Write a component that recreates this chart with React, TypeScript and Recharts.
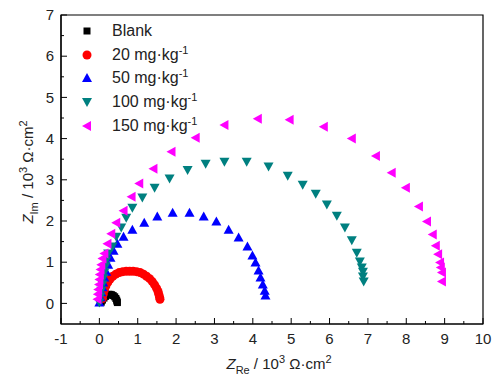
import { ScatterChart, Scatter, XAxis, YAxis, Legend, ReferenceArea } from "recharts";

// Nyquist data, Z' and Z'' in 10^3 ohm·cm2
const blankRe = [0.05, 0.08, 0.12, 0.16, 0.2, 0.24, 0.28, 0.32, 0.36, 0.4, 0.43, 0.45, 0.46, 0.47];
const blankIm = [0.03, 0.08, 0.13, 0.17, 0.2, 0.22, 0.22, 0.21, 0.19, 0.16, 0.12, 0.08, 0.05, 0.02];

const c20Re = [0.08, 0.1, 0.13, 0.17, 0.22, 0.28, 0.35, 0.43, 0.52, 0.61, 0.7, 0.79, 0.88, 0.97, 1.06, 1.15, 1.23, 1.31, 1.38, 1.44, 1.49, 1.53, 1.55, 1.57, 1.58];
const c20Im = [0.12, 0.22, 0.32, 0.42, 0.51, 0.59, 0.66, 0.71, 0.75, 0.77, 0.78, 0.78, 0.78, 0.77, 0.75, 0.71, 0.66, 0.6, 0.53, 0.45, 0.37, 0.29, 0.22, 0.15, 0.1];

const c50Re = [0, 0.03, 0.05, 0.08, 0.1, 0.13, 0.18, 0.23, 0.29, 0.37, 0.47, 0.63, 0.86, 1.17, 1.51, 1.91, 2.35, 2.72, 3.05, 3.37, 3.63, 3.86, 3.99, 4.07, 4.15, 4.2, 4.26, 4.31, 4.33];
const c50Im = [0.02, 0.15, 0.27, 0.39, 0.51, 0.63, 0.77, 0.94, 1.11, 1.28, 1.45, 1.62, 1.79, 1.96, 2.11, 2.2, 2.2, 2.11, 1.99, 1.79, 1.6, 1.38, 1.16, 0.99, 0.8, 0.63, 0.46, 0.31, 0.19];

const c100Re = [0, 0.03, 0.05, 0.08, 0.1, 0.13, 0.16, 0.18, 0.23, 0.34, 0.44, 0.57, 0.7, 0.86, 1.12, 1.44, 1.83, 2.3, 2.77, 3.26, 3.84, 4.41, 4.91, 5.3, 5.64, 5.93, 6.19, 6.4, 6.58, 6.71, 6.79, 6.84, 6.87, 6.87, 6.89];
const c100Im = [0.02, 0.17, 0.31, 0.46, 0.61, 0.75, 0.9, 1.04, 1.21, 1.38, 1.62, 1.84, 2.08, 2.32, 2.57, 2.81, 3.03, 3.24, 3.39, 3.44, 3.44, 3.32, 3.1, 2.88, 2.66, 2.4, 2.13, 1.84, 1.53, 1.23, 1.02, 0.87, 0.77, 0.65, 0.53];

const c150Re = [-0.05, -0.04, -0.03, -0.01, 0, 0.01, 0.03, 0.05, 0.08, 0.13, 0.21, 0.31, 0.44, 0.63, 0.84, 1.04, 1.41, 1.88, 2.51, 3.26, 4.13, 4.96, 5.85, 6.58, 7.21, 7.62, 7.99, 8.33, 8.54, 8.69, 8.77, 8.83, 8.88, 8.9, 8.93, 8.93];
const c150Im = [0.1, 0.22, 0.34, 0.46, 0.58, 0.7, 0.82, 0.94, 1.09, 1.21, 1.45, 1.69, 1.96, 2.25, 2.59, 2.91, 3.27, 3.68, 4.02, 4.33, 4.48, 4.46, 4.29, 4, 3.58, 3.17, 2.81, 2.35, 1.99, 1.67, 1.4, 1.19, 0.99, 0.87, 0.75, 0.53];

const xTicks = [-1, -0.5, 0, 0.5, 1, 1.5, 2, 2.5, 3, 3.5, 4, 4.5, 5, 5.5, 6, 6.5, 7, 7.5, 8, 8.5, 9, 9.5, 10];
const yTicks = [0, 0.5, 1, 1.5, 2, 2.5, 3, 3.5, 4, 4.5, 5, 5.5, 6, 6.5, 7];

const FONT = "'Liberation Sans', Arial, sans-serif";

const toPoints = (re: number[], im: number[]) => re.map((x, i) => ({ x, y: im[i] }));

type Kind = "square" | "circle" | "up" | "down" | "left";

function marker(kind: Kind, cx: number, cy: number, fill: string) {
  switch (kind) {
    case "square":
      return <rect x={cx - 3.5} y={cy - 3.5} width={7} height={7} fill={fill} />;
    case "circle":
      return <circle cx={cx} cy={cy} r={4.5} fill={fill} />;
    case "up":
      return <polygon points={`${cx},${cy - 5} ${cx + 5},${cy + 4} ${cx - 5},${cy + 4}`} fill={fill} />;
    case "down":
      return <polygon points={`${cx},${cy + 5} ${cx + 5},${cy - 4} ${cx - 5},${cy - 4}`} fill={fill} />;
    default:
      return <polygon points={`${cx - 5},${cy} ${cx + 4},${cy - 5} ${cx + 4},${cy + 5}`} fill={fill} />;
  }
}

const series = [
  { name: "Blank", unit: false, color: "#000000", kind: "square" as Kind, data: toPoints(blankRe, blankIm) },
  { name: "20 mg·kg", unit: true, color: "#ff0000", kind: "circle" as Kind, data: toPoints(c20Re, c20Im) },
  { name: "50 mg·kg", unit: true, color: "#0000ff", kind: "up" as Kind, data: toPoints(c50Re, c50Im) },
  { name: "100 mg·kg", unit: true, color: "#008080", kind: "down" as Kind, data: toPoints(c100Re, c100Im) },
  { name: "150 mg·kg", unit: true, color: "#ff00ff", kind: "left" as Kind, data: toPoints(c150Re, c150Im) },
];

const XTick = (props: any) => {
  const { x, y, payload } = props;
  const v = payload.value;
  const major = Number.isInteger(v);
  const ay = y - 9;
  return (
    <g>
      <line x1={x} x2={x} y1={ay} y2={ay - (major ? 6 : 3)} stroke="#000" />
      {major && (
        <text x={x} y={y} dy="0.71em" textAnchor="middle" fontSize={15} fontFamily={FONT} fill="#222">
          {v}
        </text>
      )}
    </g>
  );
};

const YTick = (props: any) => {
  const { x, y, payload } = props;
  const v = payload.value;
  const major = Number.isInteger(v);
  const ax = x + 7;
  return (
    <g>
      <line x1={ax} x2={ax + (major ? 6 : 3)} y1={y} y2={y} stroke="#000" />
      {major && (
        <text x={x} y={y} dy="0.35em" textAnchor="end" fontSize={15} fontFamily={FONT} fill="#222">
          {v}
        </text>
      )}
    </g>
  );
};

const XTitle = (props: any) => {
  const { viewBox } = props;
  const cx = viewBox.x + viewBox.width / 2 + 7;
  const y = viewBox.y + 45;
  return (
    <text x={cx} y={y} textAnchor="middle" fontSize={15} fontFamily={FONT} fill="#222">
      <tspan fontStyle="italic">Z</tspan>
      <tspan dy={5} fontSize={11}>Re</tspan>
      <tspan dy={-5}> / 10</tspan>
      <tspan dy={-6} fontSize={11}>3</tspan>
      <tspan dy={6}> Ω·cm</tspan>
      <tspan dy={-6} fontSize={11}>2</tspan>
    </text>
  );
};

const YTitle = () => {
  const x = 33;
  const y = 172;
  return (
    <text x={x} y={y} transform={`rotate(-90, ${x}, ${y})`} textAnchor="middle" fontSize={15} fontFamily={FONT} fill="#222">
      <tspan fontStyle="italic">Z</tspan>
      <tspan dy={5} fontSize={11}>Im</tspan>
      <tspan dy={-5}> / 10</tspan>
      <tspan dy={-6} fontSize={11}>3</tspan>
      <tspan dy={6}> Ω·cm</tspan>
      <tspan dy={-6} fontSize={11}>2</tspan>
    </text>
  );
};

const renderLegend = () => (
  <div style={{ fontFamily: FONT, fontSize: 16, color: "#222" }}>
    {series.map((s) => (
      <div key={s.name} style={{ display: "flex", alignItems: "center", height: 23.8 }}>
        <svg width={20} height={12}>
          {marker(s.kind, 10, 6, s.color)}
        </svg>
        <span style={{ marginLeft: 15, whiteSpace: "nowrap" }}>
          {s.name}
          {s.unit && <sup style={{ fontSize: 11, lineHeight: 0 }}>-1</sup>}
        </span>
      </div>
    ))}
  </div>
);

export default function App() {
  return (
    <div style={{ position: "absolute", left: 0, top: 0, background: "#fff" }}>
      <ScatterChart width={499} height={382} margin={{ top: 15, right: 16, left: 0, bottom: 0 }}>
        <ReferenceArea x1={-1} x2={10} y1={-0.5} y2={7} fill="none" stroke="#000" strokeWidth={1.2} ifOverflow="visible" />
        <XAxis
          type="number"
          dataKey="x"
          domain={[-1, 10]}
          ticks={xTicks}
          interval={0}
          height={58}
          tickSize={0}
          tickMargin={9}
          tickLine={false}
          tick={<XTick />}
          axisLine={{ stroke: "#000", strokeWidth: 1.2 }}
          label={{ content: <XTitle /> }}
          allowDataOverflow
        />
        <YAxis
          type="number"
          dataKey="y"
          domain={[-0.5, 7]}
          ticks={yTicks}
          interval={0}
          width={61}
          tickSize={0}
          tickMargin={7}
          tickLine={false}
          tick={<YTick />}
          axisLine={{ stroke: "#000", strokeWidth: 1.2 }}
          label={{ content: <YTitle /> }}
          allowDataOverflow
        />
        <Legend
          layout="vertical"
          align="center"
          verticalAlign="middle"
          content={renderLegend}
          wrapperStyle={{ left: 77, top: 19, width: 160 }}
        />
        {series.map((s) => (
          <Scatter
            key={s.name}
            name={s.name}
            data={s.data}
            fill={s.color}
            isAnimationActive={false}
            shape={(p: any) => marker(s.kind, p.cx, p.cy, s.color)}
          />
        ))}
      </ScatterChart>
    </div>
  );
}
